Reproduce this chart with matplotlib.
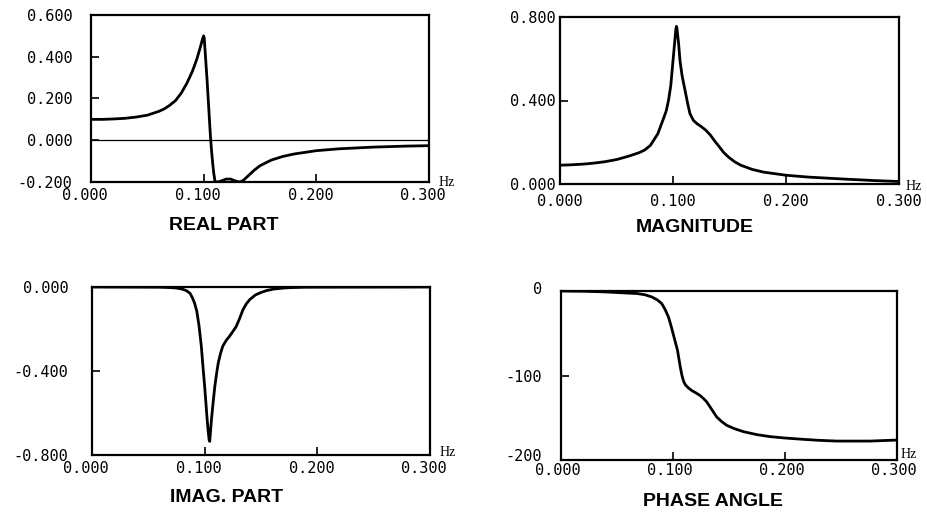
import matplotlib
matplotlib.use("Agg")
import matplotlib.pyplot as plt
from matplotlib.transforms import ScaledTranslation

# ---------------- data ----------------
real_f = [0.000, 0.010, 0.020, 0.030, 0.040, 0.050, 0.060, 0.065, 0.070, 0.075,
          0.080, 0.085, 0.090, 0.094, 0.097, 0.099, 0.100, 0.1005, 0.101, 0.102,
          0.103, 0.104, 0.105, 0.106, 0.107, 0.108, 0.109, 0.110, 0.111, 0.114,
          0.117, 0.120, 0.124, 0.128, 0.132, 0.135, 0.140, 0.145, 0.150, 0.160,
          0.170, 0.180, 0.200, 0.220, 0.250, 0.280, 0.300]
real_v = [0.100, 0.100, 0.102, 0.105, 0.111, 0.120, 0.138, 0.150, 0.168, 0.190,
          0.225, 0.272, 0.330, 0.390, 0.445, 0.485, 0.500, 0.490, 0.450, 0.370,
          0.290, 0.200, 0.110, 0.020, -0.050, -0.110, -0.160, -0.195, -0.200, -0.198,
          -0.192, -0.186, -0.186, -0.195, -0.200, -0.193, -0.168, -0.143, -0.122, -0.095,
          -0.078, -0.066, -0.050, -0.041, -0.033, -0.028, -0.026]

mag_f = [0.000, 0.010, 0.020, 0.030, 0.040, 0.050, 0.060, 0.070, 0.075, 0.080,
         0.0865, 0.091, 0.094, 0.096, 0.098, 0.0995, 0.101, 0.1025, 0.103, 0.1035,
         0.105, 0.1062, 0.108, 0.1106, 0.113, 0.115, 0.118, 0.121, 0.125, 0.129,
         0.133, 0.137, 0.141, 0.145, 0.150, 0.155, 0.160, 0.170, 0.180, 0.200,
         0.220, 0.250, 0.280, 0.300]
mag_v = [0.090, 0.092, 0.095, 0.100, 0.107, 0.117, 0.132, 0.150, 0.163, 0.185,
         0.240, 0.305, 0.350, 0.400, 0.470, 0.560, 0.650, 0.740, 0.755, 0.745,
         0.670, 0.590, 0.520, 0.450, 0.385, 0.337, 0.305, 0.290, 0.275, 0.258,
         0.235, 0.205, 0.178, 0.150, 0.125, 0.105, 0.090, 0.070, 0.057, 0.042,
         0.033, 0.024, 0.016, 0.012]

imag_f = [0.000, 0.060, 0.070, 0.075, 0.080, 0.084, 0.087, 0.089, 0.091, 0.093,
          0.095, 0.097, 0.0985, 0.100, 0.101, 0.102, 0.103, 0.104, 0.1045, 0.105,
          0.106, 0.1075, 0.109, 0.1105, 0.112, 0.114, 0.116, 0.119, 0.122, 0.125,
          0.128, 0.131, 0.134, 0.137, 0.140, 0.145, 0.150, 0.155, 0.161, 0.170,
          0.176, 0.190, 0.300]
imag_v = [0.000, -0.001, -0.003, -0.005, -0.010, -0.018, -0.030, -0.050, -0.076, -0.115,
          -0.185, -0.280, -0.380, -0.474, -0.545, -0.617, -0.680, -0.730, -0.735, -0.700,
          -0.633, -0.550, -0.474, -0.415, -0.363, -0.318, -0.283, -0.255, -0.235, -0.212,
          -0.188, -0.150, -0.108, -0.080, -0.060, -0.038, -0.026, -0.017, -0.010, -0.005,
          -0.003, -0.001, 0.000]

phase_f = [0.000, 0.020, 0.038, 0.050, 0.068, 0.075, 0.081, 0.086, 0.090, 0.093,
           0.096, 0.098, 0.100, 0.102, 0.104, 0.1055, 0.1065, 0.108, 0.1095, 0.111,
           0.114, 0.117, 0.121, 0.124, 0.127, 0.130, 0.133, 0.136, 0.139, 0.143,
           0.148, 0.155, 0.163, 0.175, 0.187, 0.200, 0.217, 0.230, 0.246, 0.276, 0.300]
phase_v = [0.0, -0.3, -1.0, -1.8, -3.0, -4.5, -7.0, -10.5, -15.0, -22.0,
           -31.0, -40.0, -50.0, -60.0, -70.0, -82.0, -90.0, -100.0, -107.0, -111.0,
           -115.0, -118.0, -121.0, -123.5, -127.0, -131.0, -137.0, -143.0, -149.0, -154.0,
           -159.0, -163.0, -166.5, -170.0, -172.4, -174.0, -175.6, -176.7, -177.6, -177.6, -176.4]

x_ticks = [0.0, 0.1, 0.2, 0.3]
x_labels = ["0.000", "0.100", "0.200", "0.300"]

real_yticks = [-0.2, 0.0, 0.2, 0.4, 0.6]
real_ylabels = ["-0.200", "0.000", "0.200", "0.400", "0.600"]
mag_yticks = [0.0, 0.4, 0.8]
mag_ylabels = ["0.000", "0.400", "0.800"]
imag_yticks = [-0.8, -0.4, 0.0]
imag_ylabels = ["-0.800", "-0.400", "0.000"]
phase_yticks = [-200, -100, 0]
phase_ylabels = ["-200", "-100", "0"]

titles = ["REAL PART", "MAGNITUDE", "IMAG. PART", "PHASE ANGLE"]

# ---------------- figure ----------------
W, H = 927, 516
fig = plt.figure(figsize=(W / 100, H / 100), dpi=100)

def px_axes(l, t, r, b):
    return fig.add_axes([l / W, 1 - b / H, (r - l) / W, (b - t) / H])

tick_font = dict(family="DejaVu Sans Mono", size=11)

specs = [
    # box(l,t,r,b), f, v, ylim, yticks, ylabels, ypad, yshifts(px per label), xpad, xshift, title pos, Hz pos
    ((91, 15, 429, 182), real_f, real_v, (-0.2, 0.6), real_yticks, real_ylabels, 13.5, None, 4, -6, (224, 225), (447, 183)),
    ((560, 17, 899, 184), mag_f, mag_v, (0.0, 0.8), mag_yticks, mag_ylabels, 3.5, None, 7.5, 0, (695, 227), (914, 187)),
    ((92, 287, 430, 455), imag_f, imag_v, (-0.8, 0.0), imag_yticks, imag_ylabels, 17, None, 4, -6, (227, 498), (448, 453)),
    ((561, 291, 897, 460), phase_f, phase_v, (-200, 0), phase_yticks, phase_ylabels, 13.5, [5, -1, 3], 2, -3, (713, 502), (909, 455)),
]

for i, (box, f, v, ylim, yt, yl, ypad, yshifts, xpad, xshift, tpos, hzpos) in enumerate(specs):
    ax = px_axes(*box)
    ax.plot(f, v, color="black", lw=2.0, solid_capstyle="round", solid_joinstyle="round")
    if i == 0:
        ax.axhline(0.0, color="black", lw=0.9)
    ax.set_xlim(0.0, 0.3)
    ax.set_ylim(*ylim)
    ax.set_xticks(x_ticks)
    ax.set_xticklabels(x_labels, **tick_font)
    ax.set_yticks(yt)
    ax.set_yticklabels(yl, **tick_font)
    ax.tick_params(direction="in", length=6, width=1.2, color="black")
    ax.tick_params(axis="y", pad=ypad)
    ax.tick_params(axis="x", pad=xpad)
    for s in ax.spines.values():
        s.set_linewidth(1.6)
    if xshift:
        off = ScaledTranslation(xshift / 100, 0, fig.dpi_scale_trans)
        for lab in ax.get_xticklabels():
            lab.set_transform(lab.get_transform() + off)
    if yshifts:
        for lab, dy in zip(ax.get_yticklabels(), yshifts):
            off = ScaledTranslation(0, dy / 100, fig.dpi_scale_trans)
            lab.set_transform(lab.get_transform() + off)
    fig.text(tpos[0] / W, 1 - tpos[1] / H, titles[i], ha="center", va="center",
             family="Liberation Sans", fontweight="bold", fontsize=14)
    fig.text(hzpos[0] / W, 1 - hzpos[1] / H, "Hz", ha="center", va="center",
             family="Liberation Serif", fontsize=10)

fig.savefig("out.png", dpi=100)
